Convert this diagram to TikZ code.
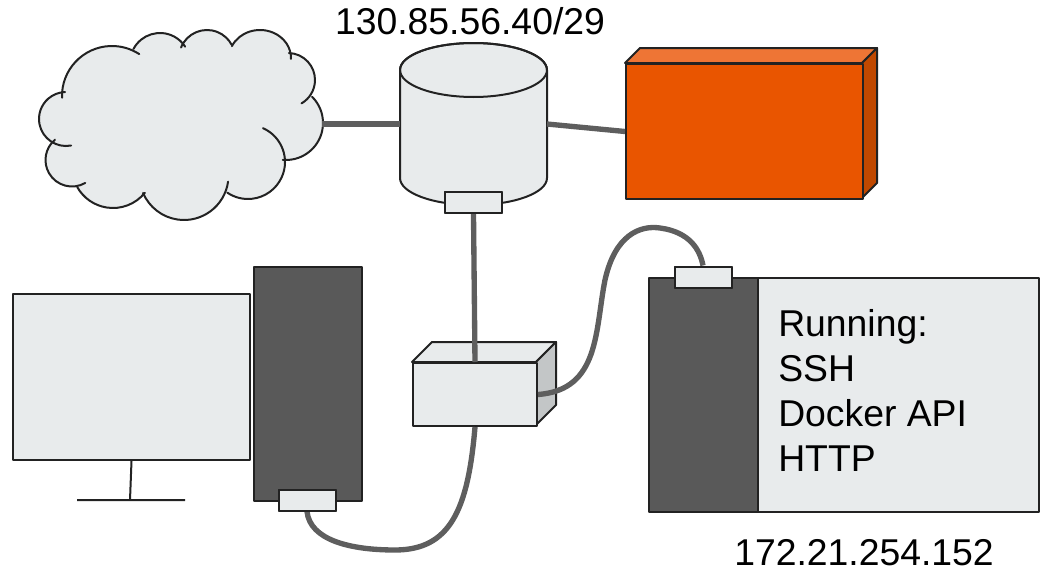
\documentclass[tikz,border=0pt]{standalone}
\usepackage{fontspec}
\setmainfont{Liberation Sans}
\usetikzlibrary{calc}

\definecolor{paper}{HTML}{E8EBEC}
\definecolor{towergray}{HTML}{595959}
\definecolor{cablegray}{HTML}{5E5E5E}
\definecolor{orangefront}{HTML}{E95500}
\definecolor{orangetop}{HTML}{EE7535}
\definecolor{orangeside}{HTML}{C04800}
\definecolor{switchside}{HTML}{C3C6C7}
\definecolor{edgeblack}{HTML}{222222}

\tikzset{
  outline/.style={draw=edgeblack,line width=1.5pt,line join=round},
  cablewire/.style={draw=cablegray,line width=4pt},
  portbox/.style={outline,fill=paper,rectangle,inner sep=0pt,
    minimum width=57*0.75pt,minimum height=21*0.75pt},
  label/.style={font=\fontsize{28pt}{33.75pt}\selectfont,inner sep=0pt},
}

% one puff of the cloud: centre, radius, start angle, end angle
\newcommand\cloudpuff[4]{%
  \draw[outline,line cap=round] (#1) ++(#3:#2) arc[start angle=#3,end angle=#4,radius=#2];}

\begin{document}
\begin{tikzpicture}[x=0.75pt,y=-0.75pt]
\useasboundingbox (0,0) rectangle (1047,571);

% ---- internet cloud: filled body, then the puff outlines
\fill[paper] (66,119) circle[radius=27];
\fill[paper] (112,96) circle[radius=50];
\fill[paper] (160,63) circle[radius=30];
\fill[paper] (207,58) circle[radius=28];
\fill[paper] (260,58) ellipse[x radius=31,y radius=28];
\fill[paper] (288,80) circle[radius=27];
\fill[paper] (286,123) circle[radius=37];
\fill[paper] (248,162) circle[radius=37];
\fill[paper] (184,175.5) circle[radius=44.5];
\fill[paper] (113,167) circle[radius=41];
\fill[paper] (72,160) circle[radius=26.5];
\fill[paper] (66,119) -- (112,96) -- (160,63) -- (207,58) -- (260,58) -- (288,80)
  -- (286,123) -- (248,162) -- (184,175) -- (113,167) -- (72,160) -- cycle;
\cloudpuff{66,119}{27}{79}{268}
\cloudpuff{112,96}{50}{178}{303}
\cloudpuff{160,63}{30}{208}{327}
\cloudpuff{207,58}{28}{202}{332}
\draw[outline,line cap=round] (260,58) ++(205:31 and 28)
  arc[start angle=205,end angle=362,x radius=31,y radius=28];
\cloudpuff{288,80}{27}{272}{420}
\cloudpuff{286,123}{37}{315}{455}
\cloudpuff{248,162}{37}{294}{484}
\cloudpuff{184,175.5}{44.5}{8}{157}
\cloudpuff{113,167}{41}{39}{151}
\cloudpuff{72,160}{26.5}{60}{230}
\coordinate (cloudE) at (322,124);

% ---- router (cylinder)
\coordinate (cylW) at (400,124);
\coordinate (cylE) at (547,124);
\path[outline,fill=paper] (400,70) -- (400,178)
  arc[start angle=180,end angle=0,x radius=73.5,y radius=27] -- (547,70)
  arc[start angle=360,end angle=180,x radius=73.5,y radius=27] -- cycle;
\draw[outline] (473.5,70) ellipse [x radius=73.5,y radius=27];
\node[portbox] (cylport) at (473.5,202.5) {};
\node[label,anchor=base] (subnet) at (470,35) {130.85.56.40/29};

% ---- firewall (orange box)
\path[outline,fill=orangetop] (625,63) -- (640,48) -- (877,48) -- (862,63) -- cycle;
\path[outline,fill=orangeside] (862,63) -- (877,48) -- (877,183) -- (862,198) -- cycle;
\node[outline,fill=orangefront,rectangle,inner sep=0pt,anchor=north west,
      minimum width=237*0.75pt,minimum height=135*0.75pt] (firewall) at (625,63) {};

% ---- switch (grey box)
\path[outline,fill=paper] (412,362) -- (432,342) -- (556,342) -- (536,362) -- cycle;
\path[outline,fill=switchside] (536,362) -- (556,342) -- (556,405) -- (536,425) -- cycle;
\node[outline,fill=paper,rectangle,inner sep=0pt,anchor=north west,
      minimum width=124*0.75pt,minimum height=63*0.75pt] (switch) at (412,362) {};

% ---- workstation
\node[outline,fill=paper,rectangle,inner sep=0pt,anchor=north west,
      minimum width=237*0.75pt,minimum height=166*0.75pt] (monitor) at (12,293) {};
\coordinate (standbase) at (130,500);
\draw[outline] (monitor.south) -- (standbase) (77,500) -- (185,500);
\node[outline,fill=towergray,rectangle,inner sep=0pt,anchor=north west,
      minimum width=108*0.75pt,minimum height=234*0.75pt] (tower) at (253,266) {};
\node[portbox] (towerport) at (307,500) {};

% ---- server
\node[outline,fill=paper,rectangle,inner sep=0pt,anchor=north west,
      minimum width=281*0.75pt,minimum height=234*0.75pt] (srvpanel) at (757,277) {};
\node[outline,fill=towergray,rectangle,inner sep=0pt,anchor=north west,
      minimum width=109*0.75pt,minimum height=234*0.75pt] (srvbody) at (648,277) {};
\node[portbox] (srvport) at (703,277) {};
\node[label,anchor=north west,align=left] (services) at (778,309)
  {Running:\\SSH\\Docker API\\HTTP};
\node[label,anchor=base] (hostip) at (864,565) {172.21.254.152};

% ---- cables
\draw[cablewire] (cloudE) -- (cylW);
\draw[cablewire] (cylE) -- (firewall.west);
\draw[cablewire] (cylport.south) -- (switch.north);
\draw[cablewire] (switch.east) .. controls (600,390) and (595,330) .. (605,280)
  .. controls (615,235) and (640,225) .. (660,228)
  .. controls (690,232) and (700,250) .. (srvport.north);
\draw[cablewire] (switch.south) .. controls (468,510) and (450,550) .. (395,550)
  .. controls (350,550) and (310,540) .. (towerport.south);

% ports sit above the cable ends
\node[portbox] at (cylport) {};
\node[portbox] at (srvport) {};
\node[portbox] at (towerport) {};
\end{tikzpicture}
\end{document}
